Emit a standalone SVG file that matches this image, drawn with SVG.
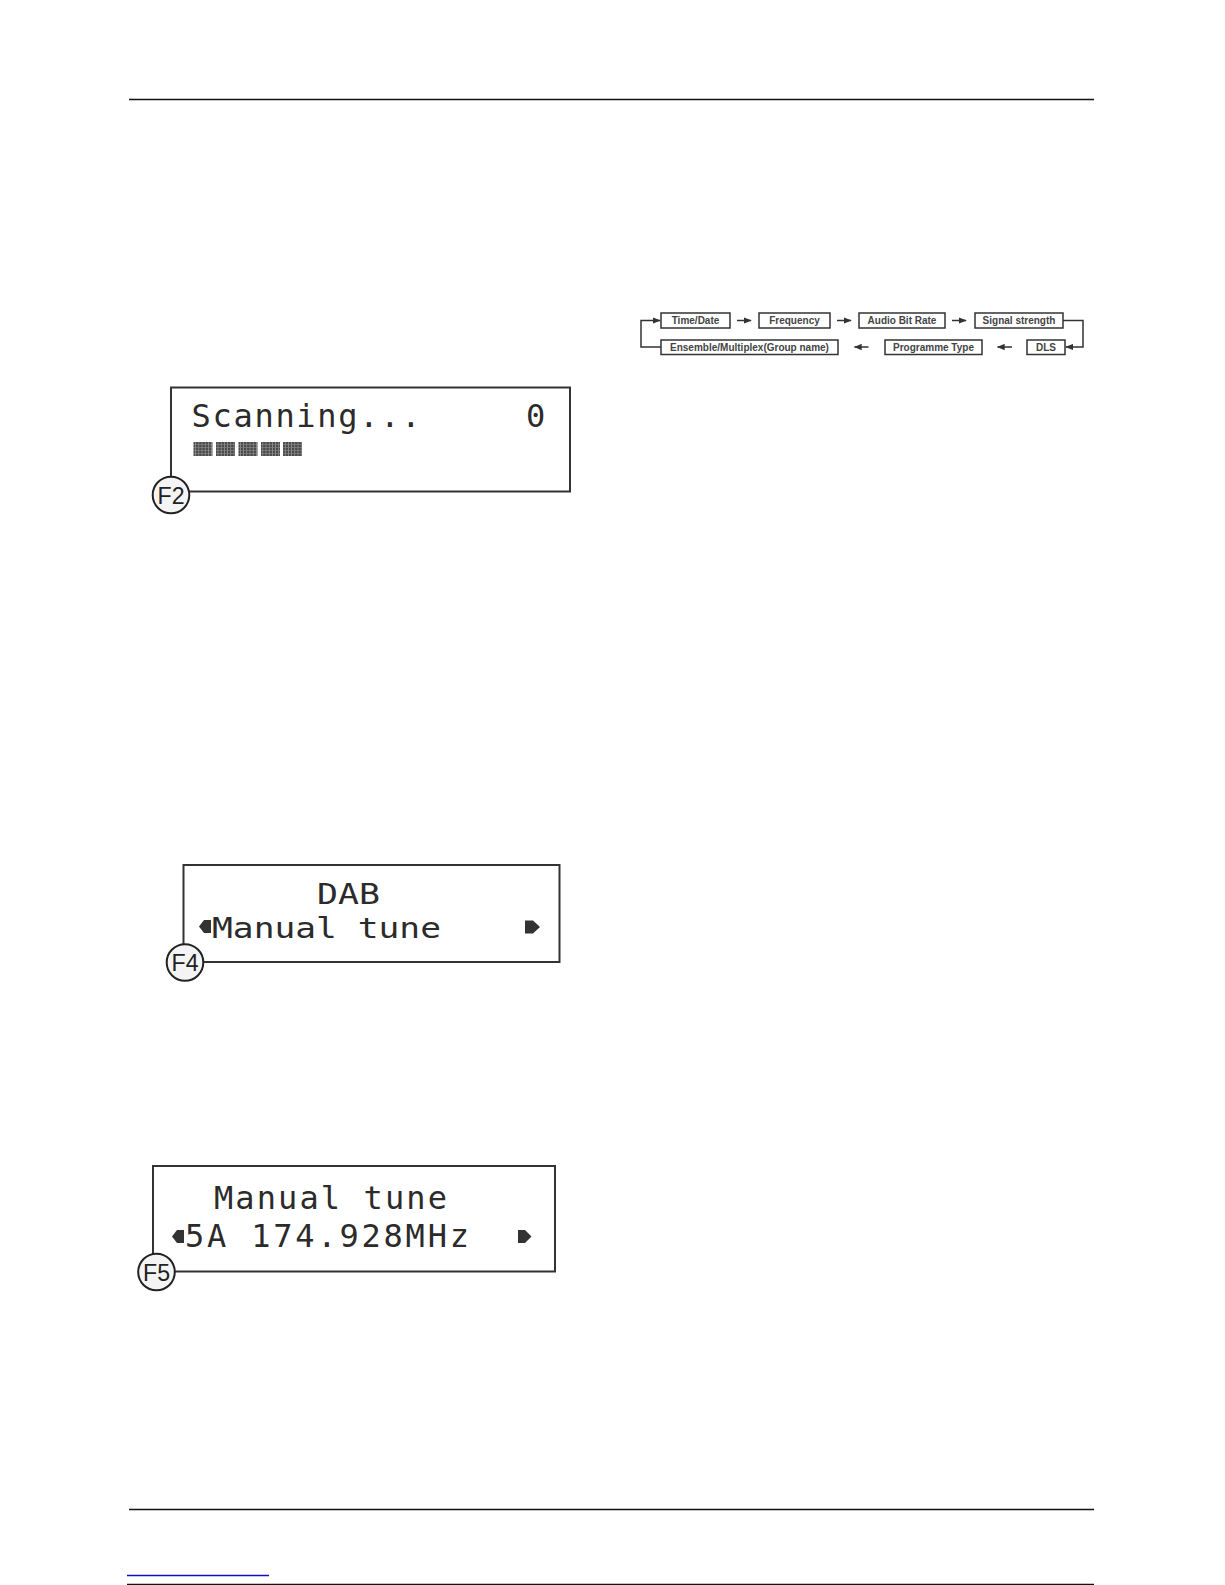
<svg xmlns="http://www.w3.org/2000/svg" width="1225" height="1585" viewBox="0 0 1225 1585">
<defs>
<style>
.rule{stroke:#111;stroke-width:1.3;fill:none}
.fbox{fill:#fff;stroke:#333;stroke-width:1.5}
.ftxt{font-family:"Liberation Sans",Arial,sans-serif;font-size:10px;font-weight:bold;fill:#444;text-anchor:middle}
.conn{stroke:#333;stroke-width:1.5;fill:none}
.lcd{fill:#fff;stroke:#333;stroke-width:2}
.lt{font-family:"DejaVu Sans Mono",monospace;font-size:32px;fill:#2b2b2b}
.lt4{font-family:"DejaVu Sans Mono",monospace;font-size:29px;fill:#2b2b2b}
.badge{fill:#f4f4f4;stroke:#222;stroke-width:2}
.btxt{font-family:"Liberation Sans",Arial,sans-serif;font-size:24px;fill:#222;text-anchor:middle}
.arr{fill:#333}
</style>
<marker id="ah" viewBox="0 0 10 10" refX="9" refY="5" markerWidth="8" markerHeight="7" markerUnits="userSpaceOnUse" orient="auto" preserveAspectRatio="none">
<path d="M0,0.5 L10,5 L0,9.5 z" fill="#333"/>
</marker>
<pattern id="grid" width="3.2" height="3" patternUnits="userSpaceOnUse">
<rect width="3.2" height="3" fill="#4a4a4a"/>
<rect width="0.7" height="3" fill="#9a9a9a"/>
<rect width="3.2" height="0.6" fill="#8a8a8a"/>
</pattern>
</defs>
<rect width="1225" height="1585" fill="#fff"/>

<g id="page-rules">
<line class="rule" x1="129" y1="99.5" x2="1094" y2="99.5"/>
<line class="rule" x1="129" y1="1509.5" x2="1094" y2="1509.5"/>
<line x1="127" y1="1575.5" x2="269" y2="1575.5" stroke="#1010c0" stroke-width="1.3"/>
<line class="rule" x1="127" y1="1584.5" x2="1094" y2="1584.5"/>
</g>

<g id="flow-nodes">
<g id="n-timedate"><rect class="fbox" x="661" y="313" width="69" height="15"/><text class="ftxt" x="695.5" y="324">Time/Date</text></g>
<g id="n-frequency"><rect class="fbox" x="759" y="313" width="71" height="15"/><text class="ftxt" x="794.5" y="324">Frequency</text></g>
<g id="n-audiobitrate"><rect class="fbox" x="859" y="313" width="86" height="15"/><text class="ftxt" x="902" y="324">Audio Bit Rate</text></g>
<g id="n-signal"><rect class="fbox" x="975" y="313" width="88" height="15"/><text class="ftxt" x="1019" y="324">Signal strength</text></g>
<g id="n-ensemble"><rect class="fbox" x="661" y="340" width="177" height="14.5"/><text class="ftxt" x="749.5" y="350.8">Ensemble/Multiplex(Group name)</text></g>
<g id="n-programme"><rect class="fbox" x="885" y="340" width="97" height="14.5"/><text class="ftxt" x="933.5" y="350.8">Programme Type</text></g>
<g id="n-dls"><rect class="fbox" x="1027" y="340" width="38" height="14.5"/><text class="ftxt" x="1046" y="350.8">DLS</text></g>
</g>

<g id="connectors">
<line class="conn" x1="737" y1="320.5" x2="751" y2="320.5" marker-end="url(#ah)"/>
<line class="conn" x1="837" y1="320.5" x2="851" y2="320.5" marker-end="url(#ah)"/>
<line class="conn" x1="952" y1="320.5" x2="966" y2="320.5" marker-end="url(#ah)"/>
<polyline class="conn" points="1063,320.5 1083,320.5 1083,347 1066,347" marker-end="url(#ah)"/>
<line class="conn" x1="1012" y1="347" x2="997.5" y2="347" marker-end="url(#ah)"/>
<line class="conn" x1="868.5" y1="347" x2="854.5" y2="347" marker-end="url(#ah)"/>
<polyline class="conn" points="661,347 641,347 641,320.5 660,320.5" marker-end="url(#ah)"/>
</g>

<g id="lcd-f2">
<rect class="lcd" x="171" y="387.5" width="399" height="104"/>
<text class="lt" x="191.5" y="427" textLength="229" lengthAdjust="spacing">Scanning...</text>
<text class="lt" x="526" y="427">0</text>
<g id="f2-bar">
<rect x="193.5" y="442" width="19" height="14" fill="url(#grid)"/>
<rect x="216" y="442" width="19" height="14" fill="url(#grid)"/>
<rect x="238.5" y="442" width="19" height="14" fill="url(#grid)"/>
<rect x="261" y="442" width="19" height="14" fill="url(#grid)"/>
<rect x="283" y="442" width="19" height="14" fill="url(#grid)"/>
</g>
<circle class="badge" cx="171" cy="495" r="18.3"/>
<text class="btxt" x="171" y="503.5" textLength="27" lengthAdjust="spacingAndGlyphs">F2</text>
</g>

<g id="lcd-f4">
<rect class="lcd" x="183.5" y="865" width="376" height="97"/>
<text class="lt4" x="317" y="903.5" textLength="63" lengthAdjust="spacingAndGlyphs">DAB</text>
<polygon class="arr" points="199,926.5 204,920 211,920 211,933 204,933"/>
<text class="lt4" x="212" y="937.5" textLength="229" lengthAdjust="spacingAndGlyphs">Manual tune</text>
<polygon class="arr" points="525,920.5 533,920.5 540,927 533,933.5 525,933.5"/>
<circle class="badge" cx="185" cy="962.5" r="18.3"/>
<text class="btxt" x="185" y="971" textLength="27" lengthAdjust="spacingAndGlyphs">F4</text>
</g>

<g id="lcd-f5">
<rect class="lcd" x="153" y="1166" width="402" height="105.5"/>
<text class="lt" x="214" y="1208.5" textLength="233" lengthAdjust="spacing">Manual tune</text>
<polygon class="arr" points="172,1236.5 177,1230 184,1230 184,1243 177,1243"/>
<text class="lt" x="185" y="1247" textLength="284" lengthAdjust="spacing">5A 174.928MHz</text>
<polygon class="arr" points="518,1230 525,1230 531.5,1236.5 525,1243 518,1243"/>
<circle class="badge" cx="156.5" cy="1272" r="18.3"/>
<text class="btxt" x="156.5" y="1280.5" textLength="27" lengthAdjust="spacingAndGlyphs">F5</text>
</g>
</svg>
